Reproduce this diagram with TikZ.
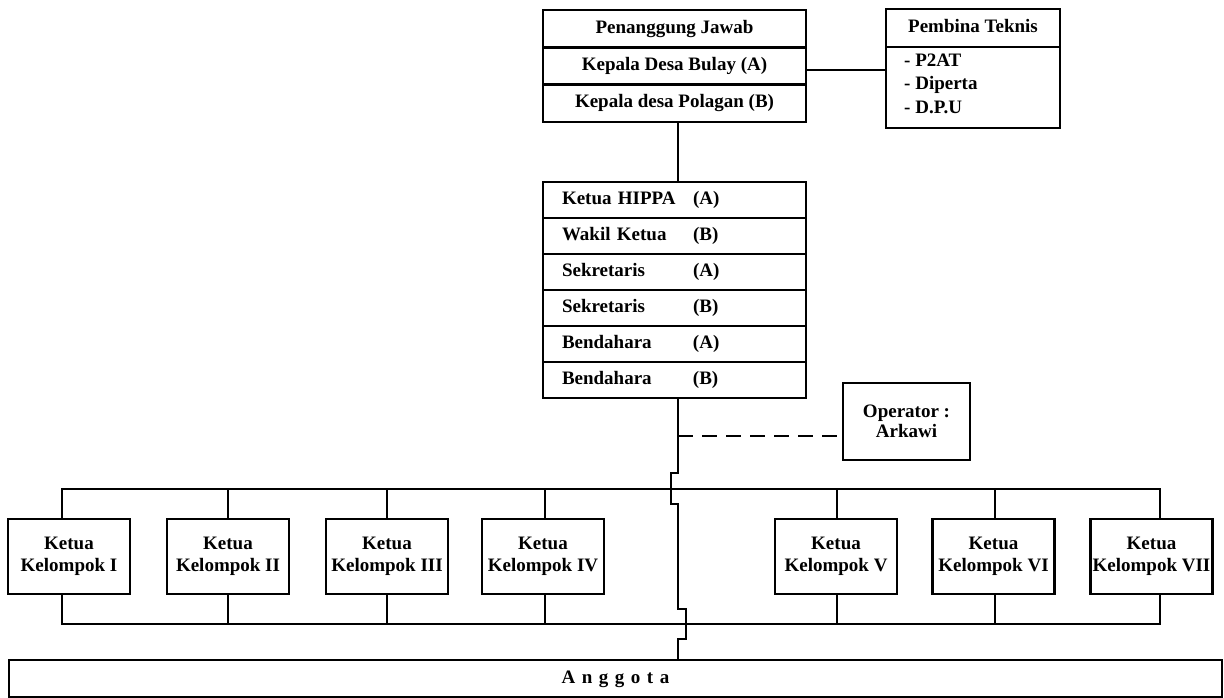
\documentclass[tikz,border=0pt]{standalone}
\usepackage{fontspec}
\setmainfont{Liberation Serif}
\newcommand{\hrowtext}[2]{\makebox[131pt][l]{#1}#2}
\begin{document}
\begin{tikzpicture}[x=1pt,y=-1pt,line width=2.4pt,
  every node/.style={font=\fontsize{19}{22}\selectfont\bfseries},
  oneline/.style={text height=13pt,text depth=4pt},
  cell/.style={draw,oneline,minimum width=263pt,minimum height=37.33pt,inner sep=0pt},
  hrow/.style={draw,oneline,minimum width=263pt,minimum height=36pt,inner xsep=19pt,inner ysep=0pt,text width=225pt,align=left},
  kbox/.style={draw,minimum width=122pt,minimum height=75pt,inner sep=0pt,align=center},
  item/.style={anchor=base west,inner sep=0pt},
  dashline/.style={dash pattern=on 15pt off 9pt}]
\useasboundingbox (0,0) rectangle (1224,698);

% leadership block
\node[cell] (pj)  at (674.5,28.7)  {Penanggung Jawab};
\node[cell] (kdb) at (674.5,66)    {Kepala Desa Bulay (A)};
\node[cell] (kdp) at (674.5,103.3) {Kepala desa Polagan (B)};

% technical advisors
\node[draw,oneline,minimum width=174pt,minimum height=38pt,inner sep=0pt] (pt) at (973,28) {Pembina Teknis};
\node[draw,minimum width=174pt,minimum height=81pt,inner sep=0pt] (ptl) at (973,87.5) {};
\node[item] (i1) at (903,66.5)  {-\ P2AT};
\node[item] (i2) at (903,90)    {-\ Diperta};
\node[item] (i3) at (903,113.5) {-\ D.P.U};
\draw ([yshift=-4pt]kdb.east) -- ([yshift=-4pt]kdb.east -| ptl.west);

% HIPPA board
\node[hrow] (h1) at (674.5,200) {\hrowtext{Ketua HIPPA}{(A)}};
\node[hrow] (h2) at (674.5,236) {\hrowtext{Wakil Ketua}{(B)}};
\node[hrow] (h3) at (674.5,272) {\hrowtext{Sekretaris}{(A)}};
\node[hrow] (h4) at (674.5,308) {\hrowtext{Sekretaris}{(B)}};
\node[hrow] (h5) at (674.5,344) {\hrowtext{Bendahara}{(A)}};
\node[hrow] (h6) at (674.5,380) {\hrowtext{Bendahara}{(B)}};

\coordinate (sx) at (678,0);
\draw (kdp.south -| sx) -- (h1.north -| sx);

% operator
\node[draw,minimum width=127pt,minimum height=77pt,inner sep=0pt,align=center] (op) at (906.5,421.5) {Operator :\\[-2pt]Arkawi};
\coordinate (dj) at (678,436);
\draw[dashline] (dj) -- (dj -| op.west);

% group leaders
\foreach \i/\cx/\lx/\nm in {1/69/62/I,2/228/228/II,3/387/387/III,4/543/545/IV,5/836/837/V,6/993.5/995/VI,7/1151.5/1160/VII}{
  \node[kbox] (k\i) at (\cx,556.5) {Ketua\\Kelompok \nm};
  \coordinate (up\i) at (\lx,489);
  \coordinate (dn\i) at (\lx,624);
}
\draw (k1.north -| up1) -- (up1) -- (up7) -- (k7.north -| up7);
\draw (k1.south -| dn1) -- (dn1) -- (dn7) -- (k7.south -| dn7);
\foreach \i in {2,...,6}{
  \draw (up\i) -- (k\i.north -| up\i);
  \draw (k\i.south -| dn\i) -- (dn\i);
}

% members
\node[draw,minimum width=1213pt,minimum height=37pt,inner sep=0pt,oneline] (ang) at (615.5,678.5)
  {A\hspace{6.5pt}n\hspace{6.5pt}g\hspace{6.5pt}g\hspace{6.5pt}o\hspace{6.5pt}t\hspace{6.5pt}a};

% main line with its crossing jogs
\draw (h6.south -| sx) -- ++(0,74) -- ++(-7,0) -- ++(0,31) -- ++(7,0) -- ++(0,105)
  -- ++(8,0) -- ++(0,30) -- ++(-8,0) -- (ang.north -| sx);
\end{tikzpicture}
\end{document}
